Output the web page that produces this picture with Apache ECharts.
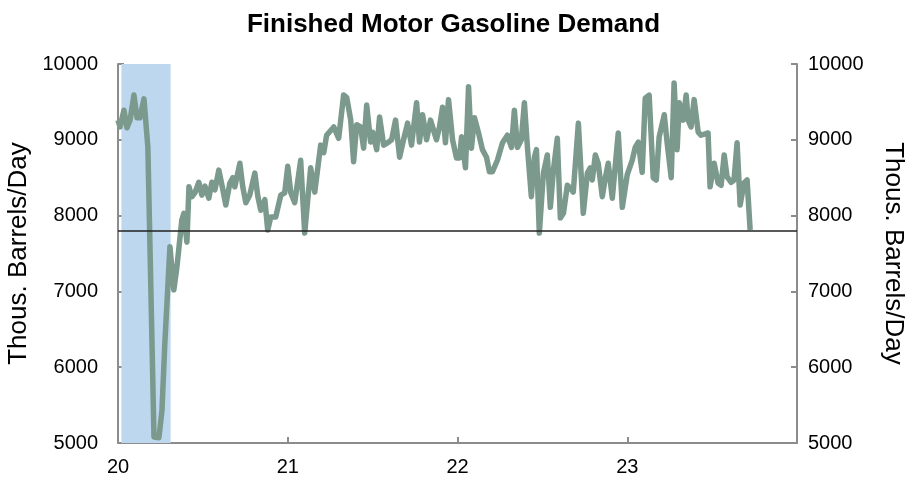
<!DOCTYPE html>
<html>

<head>
    <meta http-equiv="Content-Type" content="text/html; charset=utf-8" />
    <title>Finished Motor Gasoline Demand</title>
    <script src="https://cdn.jsdelivr.net/npm/echarts@6/dist/echarts.min.js"></script>
    <style>
        html, body { margin: 0; padding: 0; background: #fff; }
        #div1 { width: 907px; height: 478px; }
    </style>
</head>

<body>

    <div id="div1"></div>
    <script type="text/javascript">
        // weekly readings, x in fractional years
        var weeks = [
            2020.000, 2020.012, 2020.035, 2020.053, 2020.071, 2020.094, 2020.112, 2020.129, 2020.153, 2020.176,
            2020.212, 2020.241, 2020.259, 2020.276, 2020.306, 2020.329, 2020.347, 2020.376, 2020.388, 2020.406,
            2020.418, 2020.435, 2020.453, 2020.476, 2020.494, 2020.512, 2020.535, 2020.553, 2020.571, 2020.594,
            2020.618, 2020.635, 2020.659, 2020.676, 2020.688, 2020.718, 2020.735, 2020.753, 2020.776, 2020.806,
            2020.824, 2020.841, 2020.865, 2020.882, 2020.900, 2020.929, 2020.959, 2020.982, 2021.000, 2021.018,
            2021.041, 2021.076, 2021.100, 2021.135, 2021.159, 2021.194, 2021.212, 2021.229, 2021.271, 2021.300,
            2021.329, 2021.347, 2021.371, 2021.388, 2021.406, 2021.429, 2021.447, 2021.465, 2021.488, 2021.500,
            2021.524, 2021.541, 2021.565, 2021.594, 2021.612, 2021.635, 2021.659, 2021.682, 2021.706, 2021.729,
            2021.759, 2021.776, 2021.794, 2021.818, 2021.841, 2021.876, 2021.894, 2021.912, 2021.929, 2021.947,
            2021.971, 2021.994, 2022.012, 2022.024, 2022.047, 2022.065, 2022.082, 2022.100, 2022.124, 2022.147,
            2022.171, 2022.188, 2022.206, 2022.235, 2022.265, 2022.294, 2022.318, 2022.335, 2022.353, 2022.376,
            2022.394, 2022.412, 2022.435, 2022.453, 2022.465, 2022.482, 2022.506, 2022.529, 2022.547, 2022.565,
            2022.588, 2022.606, 2022.624, 2022.647, 2022.665, 2022.682, 2022.712, 2022.741, 2022.765, 2022.782,
            2022.794, 2022.812, 2022.829, 2022.853, 2022.871, 2022.888, 2022.912, 2022.947, 2022.971, 2023.000,
            2023.029, 2023.047, 2023.065, 2023.088, 2023.106, 2023.129, 2023.153, 2023.171, 2023.188, 2023.218,
            2023.235, 2023.259, 2023.276, 2023.294, 2023.306, 2023.329, 2023.347, 2023.359, 2023.376, 2023.394,
            2023.418, 2023.435, 2023.476, 2023.488, 2023.512, 2023.535, 2023.553, 2023.571, 2023.588, 2023.612,
            2023.629, 2023.647, 2023.665, 2023.688, 2023.706, 2023.724
        ];
        var demand = [
            9260, 9170, 9390, 9160, 9260, 9590, 9290, 9290, 9540, 8900,
            5080, 5070, 5430, 6320, 7590, 7020, 7320, 7940, 8030, 7650,
            8380, 8250, 8300, 8440, 8270, 8390, 8230, 8440, 8340, 8600,
            8340, 8140, 8430, 8500, 8380, 8690, 8380, 8170, 8270, 8560,
            8250, 8070, 8210, 7810, 7980, 7980, 8270, 8300, 8650, 8300,
            8170, 8730, 7770, 8630, 8310, 8930, 8830, 9060, 9170, 9020,
            9590, 9560, 9260, 8710, 9200, 9170, 8890, 9460, 8970, 9100,
            8870, 9300, 8930, 8970, 9000, 9260, 8770, 9000, 9220, 8930,
            9490, 8970, 9330, 9000, 9260, 9000, 9170, 9430, 8960, 9530,
            9000, 8760, 8760, 9040, 8630, 9700, 8890, 9290, 9090, 8870,
            8770, 8580, 8580, 8730, 8960, 9060, 8900, 9390, 8900, 9000,
            9490, 8900, 8250, 8770, 8870, 7770, 8560, 8800, 8110, 8600,
            9020, 7970, 8030, 8400, 8360, 8310, 9220, 8030, 8560, 8630,
            8470, 8800, 8690, 8250, 8500, 8690, 8230, 9090, 8110, 8540,
            8730, 8900, 8970, 8570, 9550, 9590, 8500, 8470, 9040, 9330,
            8960, 8500, 9750, 8870, 9490, 9260, 9590, 9260, 9170, 9530,
            9100, 9060, 9090, 8380, 8690, 8430, 8400, 8800, 8510, 8440,
            8470, 8960, 8140, 8430, 8470, 7810
        ];
        var recession = [2020.02, 2020.31];
        var refLevel = 7800;
        var yTicks = [5000, 6000, 7000, 8000, 9000, 10000];
        var xTicks = [2020, 2021, 2022, 2023];

        var myChart = echarts.init(document.getElementById('div1'));

        var points = [];
        for (var i = 0; i < weeks.length; i++) {
            points.push([weeks[i], demand[i]]);
        }

        var axisGray = '#8c8c8c';
        var font = 'Liberation Sans, Arial, sans-serif';

        function yAxisCfg(pos) {
            var isLeft = pos == 'left';
            return {
                type: 'value',
                position: pos,
                min: yTicks[0],
                max: yTicks[yTicks.length - 1],
                interval: 1000,
                name: 'Thous. Barrels/Day',
                nameLocation: 'middle',
                nameGap: isLeft ? 78 : 83,
                nameRotate: isLeft ? 90 : -90,
                nameTextStyle: { color: '#000', fontSize: 26, fontFamily: font },
                axisLine: { show: true, lineStyle: { color: axisGray, width: 2 } },
                axisTick: { show: true, inside: true, length: 6, lineStyle: { color: axisGray, width: 2 } },
                axisLabel: {
                    color: '#000', fontSize: 20, fontFamily: font, margin: isLeft ? 20 : 11,
                    formatter: function (v) { return String(v); }
                },
                splitLine: { show: false }
            };
        }

        option = {
            animation: false,
            backgroundColor: '#fff',
            title: {
                text: 'Finished Motor Gasoline Demand',
                left: 'center',
                top: 7,
                textStyle: { color: '#000', fontSize: 26, fontWeight: 'bold', fontFamily: font }
            },
            grid: { left: 118, right: 110, top: 64, bottom: 35, containLabel: false, outerBoundsMode: 'none' },
            xAxis: {
                type: 'value',
                min: 2020,
                max: 2024,
                interval: 1,
                axisLine: { lineStyle: { color: axisGray, width: 2 } },
                axisTick: { show: true, inside: true, length: 6, lineStyle: { color: axisGray, width: 2 } },
                axisLabel: {
                    color: '#000', fontSize: 20, fontFamily: font, margin: 14,
                    formatter: function (v) {
                        return xTicks.indexOf(v) >= 0 ? String(v - 2000) : '';
                    }
                },
                splitLine: { show: false }
            },
            yAxis: [yAxisCfg('left'), yAxisCfg('right')],
            series: [{
                type: 'line',
                data: points,
                symbol: 'none',
                lineStyle: { color: '#7b998d', width: 5.5, join: 'round' },
                markArea: {
                    silent: true,
                    itemStyle: { color: '#bdd7ee', opacity: 1 },
                    data: [[{ xAxis: recession[0] }, { xAxis: recession[1] }]]
                },
                markLine: {
                    silent: true,
                    symbol: 'none',
                    label: { show: false },
                    lineStyle: { color: '#222', width: 1.5, type: 'solid' },
                    data: [{ yAxis: refLevel }]
                }
            }]
        };
        myChart.setOption(option);
    </script>
</body>

</html>
